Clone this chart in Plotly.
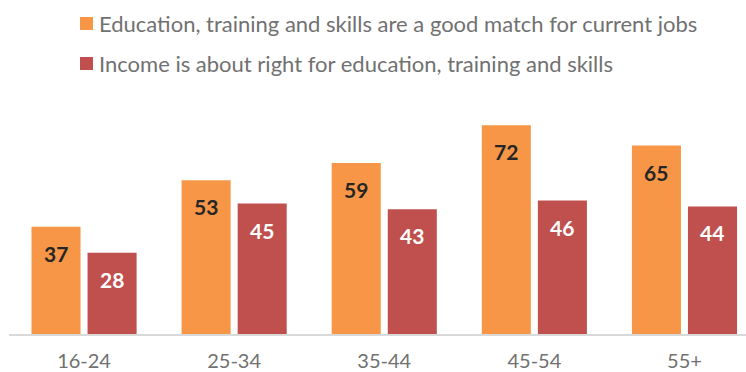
import plotly.graph_objects as go

# Age groups and survey shares (%)
age_groups = ["16-24", "25-34", "35-44", "45-54", "55+"]
good_match = [37, 53, 59, 72, 65]
income_right = [28, 45, 43, 46, 44]

series_names = [
    "Education, training and skills are a good match for current jobs",
    "Income is about right for education, training and skills",
]
series_colors = ["#F79646", "#C0504D"]
label_colors = ["#262626", "#FFFFFF"]

FONT = "Lato, Carlito, Calibri, sans-serif"
TEXT_GRAY = "#717171"

W, H = 746, 372
ml, mr, mt, mb = 9, 0, 102, 38
plot_h = H - mt - mb
plot_w = W - ml - mr


def px_to_paper_y(py):
    return (H - mb - py) / plot_h


def px_to_paper_x(px):
    return (px - ml) / plot_w


fig = go.Figure()
for name, vals, col in zip(series_names, [good_match, income_right], series_colors):
    fig.add_trace(go.Bar(
        x=age_groups, y=vals, name=name,
        marker=dict(color=col, line=dict(width=0)),
        showlegend=False, hoverinfo="skip",
    ))

# Value labels inside the top of each bar
for si, (vals, lc) in enumerate(zip([good_match, income_right], label_colors)):
    for i, v in enumerate(vals):
        fig.add_annotation(
            x=i, y=v, xref="x", yref="y",
            text=f"<b>{v}</b>", showarrow=False,
            xshift=(-28 if si == 0 else 28), yshift=-12,
            yanchor="top",
            font=dict(family=FONT, size=21, color=lc),
        )

# Legend drawn as swatches + text at the top
legend_y = [23.5, 63.5]
for name, col, ly in zip(series_names, series_colors, legend_y):
    fig.add_shape(
        type="rect", xref="paper", yref="paper",
        x0=px_to_paper_x(80), x1=px_to_paper_x(93),
        y0=px_to_paper_y(ly + 6.5), y1=px_to_paper_y(ly - 6.5),
        line=dict(width=0), fillcolor=col,
    )
    fig.add_annotation(
        x=px_to_paper_x(97), y=px_to_paper_y(ly), xref="paper", yref="paper",
        text=name, showarrow=False, xanchor="left", yanchor="middle",
        font=dict(family=FONT, size=22, color=TEXT_GRAY),
    )

fig.update_layout(
    width=W, height=H,
    margin=dict(l=ml, r=mr, t=mt, b=mb, autoexpand=False),
    paper_bgcolor="white", plot_bgcolor="white",
    barmode="group", bargap=0.253, bargroupgap=0.125,
    font=dict(family=FONT),
)
fig.update_xaxes(
    range=[-0.5, 4.41], showgrid=False, zeroline=False, automargin=False,
    showline=True, linecolor="#D9D9D9", linewidth=2,
    ticks="outside", ticklen=8, tickcolor="rgba(0,0,0,0)",
    tickfont=dict(family=FONT, size=20, color=TEXT_GRAY),
)
fig.update_yaxes(range=[0, 80], visible=False, automargin=False)

fig.write_html("out.html")
